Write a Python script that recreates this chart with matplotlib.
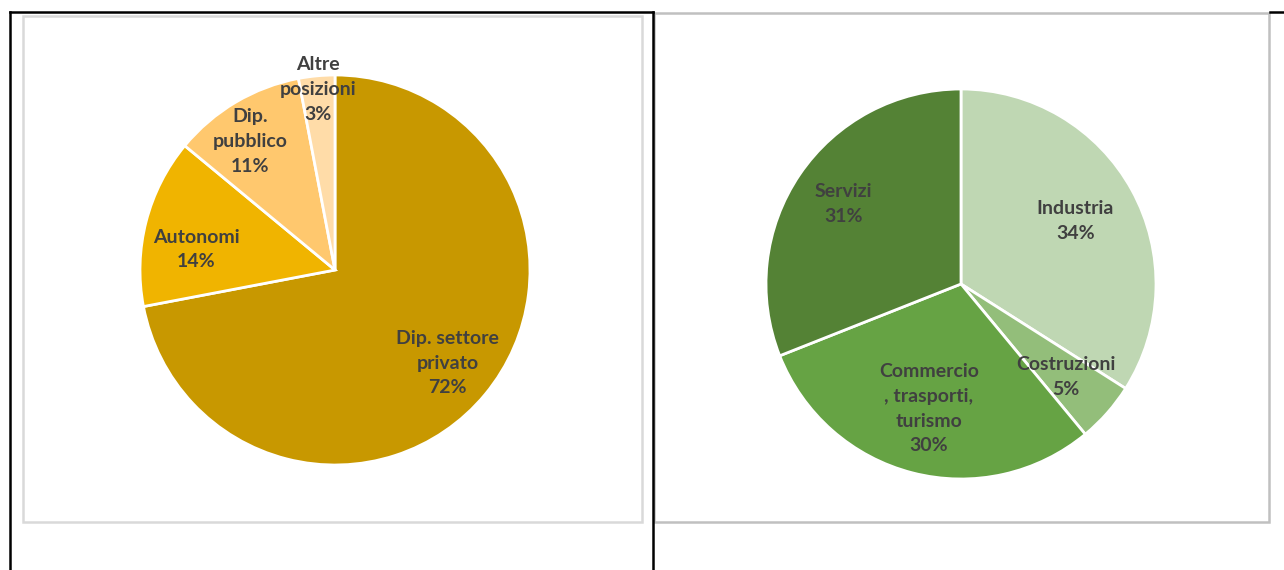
import math

import matplotlib
matplotlib.use('Agg')
import matplotlib.pyplot as plt
from matplotlib.lines import Line2D
from matplotlib.patches import Rectangle

W, H = 1284, 570

# dati
posizioni = ['Dip. settore\nprivato', 'Autonomi', 'Dip.\npubblico', 'Altre\nposizioni']
posizioni_pct = [72, 14, 11, 3]
posizioni_colori = ['#C89800', '#F0B400', '#FFC86E', '#FFDCA8']
# posizione etichette: frazione del raggio e scarto angolare (gradi)
posizioni_dist = [0.75, 0.72, 0.79, 0.93]
posizioni_scarto = [0, 6, 3, 0]

settori = ['Industria', 'Costruzioni', 'Commercio\n, trasporti,\nturismo', 'Servizi']
settori_pct = [34, 5, 30, 31]
settori_colori = ['#BFD7B3', '#93BE7A', '#66A344', '#548235']
settori_dist = [0.67, 0.72, 0.66, 0.73]
settori_scarto = [0, 0, 0, 0]

TESTO = '#404040'
plt.rcParams['font.family'] = ['Lato', 'DejaVu Sans']


def px_axes(fig, cx, cy, r):
    # asse quadrato in pixel (origine in alto a sinistra)
    return fig.add_axes([(cx - r) / W, (H - cy - r) / H, 2 * r / W, 2 * r / H])


def torta(ax, etichette, valori, colori, distanze, scarti):
    wedges, _ = ax.pie(valori, colors=colori, startangle=90, counterclock=False,
                       wedgeprops=dict(edgecolor='white', linewidth=2))
    for w, lab, v, d, s in zip(wedges, etichette, valori, distanze, scarti):
        mid = math.radians((w.theta1 + w.theta2) / 2.0 + s)
        ax.text(d * math.cos(mid), d * math.sin(mid), f'{lab}\n{v}%',
                ha='center', va='center', fontsize=14, fontweight='bold',
                color=TESTO, linespacing=1.55, clip_on=False)
    ax.set_xlim(-1, 1)
    ax.set_ylim(-1, 1)
    ax.set_aspect('equal')
    ax.axis('off')


def box(fig, x0, y0, x1, y1, colore, lw):
    fig.patches.append(Rectangle((x0 / W, 1 - y1 / H), (x1 - x0) / W, (y1 - y0) / H,
                                 transform=fig.transFigure, fill=False,
                                 edgecolor=colore, linewidth=lw))


def linea(fig, x0, y0, x1, y1, colore, lw):
    fig.lines.append(Line2D([x0 / W, x1 / W], [1 - y0 / H, 1 - y1 / H],
                            transform=fig.transFigure, color=colore, linewidth=lw))


fig = plt.figure(figsize=(W / 100, H / 100), dpi=100)

# cornici della tabella e dei grafici
box(fig, 23, 16, 642, 522, '#D9D9D9', 1.8)
box(fig, 654, 13, 1269, 522, '#C0C0C0', 1.8)
linea(fig, 10, 12, 653, 12, 'black', 1.8)
linea(fig, 1270, 12, 1284, 12, 'black', 1.8)
linea(fig, 10.5, 12, 10.5, 570, 'black', 1.8)
linea(fig, 653, 12, 653, 570, 'black', 1.8)

ax1 = px_axes(fig, 335, 270, 195)
torta(ax1, posizioni, posizioni_pct, posizioni_colori, posizioni_dist, posizioni_scarto)

ax2 = px_axes(fig, 961, 284, 195)
torta(ax2, settori, settori_pct, settori_colori, settori_dist, settori_scarto)

fig.savefig('out.png', dpi=100)
